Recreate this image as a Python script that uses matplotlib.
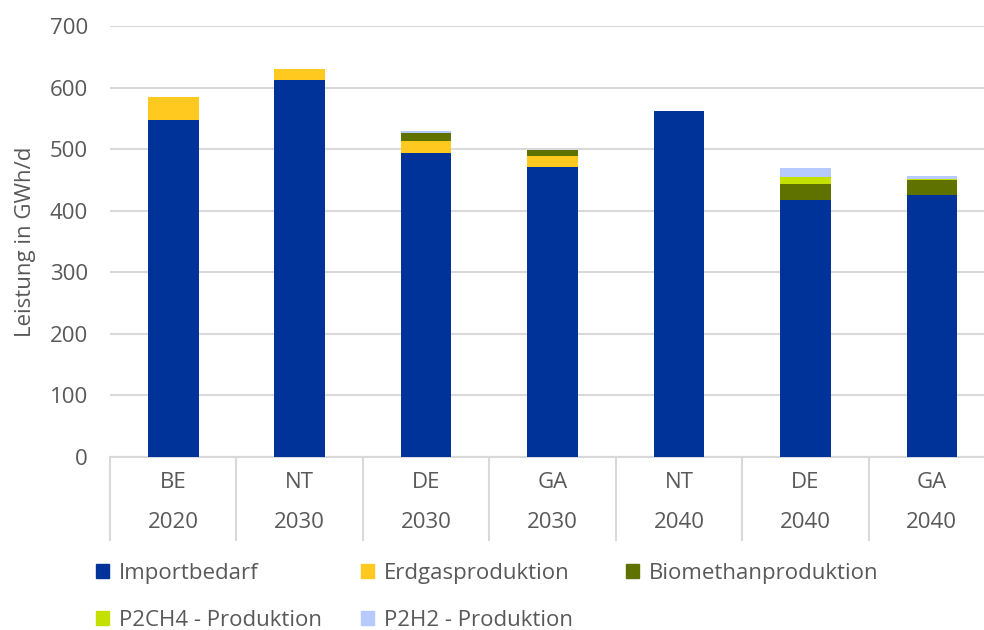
import matplotlib
matplotlib.use("Agg")
import matplotlib.pyplot as plt
from matplotlib.patches import Patch
from matplotlib.transforms import blended_transform_factory
import numpy as np

plt.rcParams['font.family'] = ['Open Sans', 'DejaVu Sans']

scenarios = ["BE", "NT", "DE", "GA", "NT", "DE", "GA"]
years = ["2020", "2030", "2030", "2030", "2040", "2040", "2040"]

series_names = ["Importbedarf", "Erdgasproduktion", "Biomethanproduktion",
                "P2CH4 - Produktion", "P2H2 - Produktion"]
importbedarf = [548, 612, 494, 471, 562, 417, 426]
erdgas = [36, 18, 20, 18, 0, 0, 0]
biomethan = [0, 0, 12, 10, 0, 27, 24]
p2ch4 = [0, 0, 0, 0, 0, 10, 2]
p2h2 = [0, 0, 4, 0, 0, 15, 5]
colors = ["#003399", "#FFC91F", "#5F7200", "#C4E000", "#B6CAFF"]

yticks = [0, 100, 200, 300, 400, 500, 600, 700]
text_color = "#595959"
grid_color = "#D9D9D9"
fs = 16

fig = plt.figure(figsize=(9.84, 6.30), dpi=100)
ax = fig.add_axes([110/984, (630-457)/630, (995-110)/984, 431/630])

x = np.arange(len(scenarios))
bottom = np.zeros(len(scenarios))
data = [importbedarf, erdgas, biomethan, p2ch4, p2h2]
for vals, c, name in zip(data, colors, series_names):
    vals = np.array(vals, dtype=float)
    ax.bar(x, vals, bottom=bottom, width=0.4, color=c, label=name, zorder=3)
    bottom += vals

ax.set_xlim(-0.5, len(scenarios) - 0.5)
ax.set_ylim(0, 700)
ax.set_yticks(yticks)
ax.set_yticklabels([str(t) for t in yticks])
ax.tick_params(axis='y', length=0, pad=16, labelsize=fs, labelcolor=text_color)
ax.set_xticks([])
ax.grid(axis='y', color=grid_color, linewidth=1.5, zorder=0)
for s in ['top', 'right', 'left']:
    ax.spines[s].set_visible(False)
ax.spines['bottom'].set_color(grid_color)
ax.spines['bottom'].set_linewidth(1.5)
ax.set_ylabel("Leistung in GWh/d", fontsize=fs, color=text_color, labelpad=10)

trans = blended_transform_factory(ax.transData, ax.transAxes)
for k in range(len(scenarios) + 1):
    ax.plot([k - 0.5, k - 0.5], [0, -0.193], transform=trans, color=grid_color,
            linewidth=1.5, clip_on=False)
for i, (s, yr) in enumerate(zip(scenarios, years)):
    ax.text(i, -0.060, s, transform=trans, ha='center', va='center',
            fontsize=fs, color=text_color)
    ax.text(i, -0.151, yr, transform=trans, ha='center', va='center',
            fontsize=fs, color=text_color)

legend_pos = [(87, 573), (352, 573), (617, 573), (87, 620), (352, 620)]
for name, c, (px, py) in zip(series_names, colors, legend_pos):
    fig.legend(handles=[Patch(color=c, label=name)], loc='center left',
               bbox_to_anchor=(px/984, 1 - py/630), frameon=False,
               fontsize=fs, labelcolor=text_color, handlelength=0.6,
               handleheight=0.6, handletextpad=0.45, borderaxespad=0)

fig.savefig("out.png", dpi=100)
